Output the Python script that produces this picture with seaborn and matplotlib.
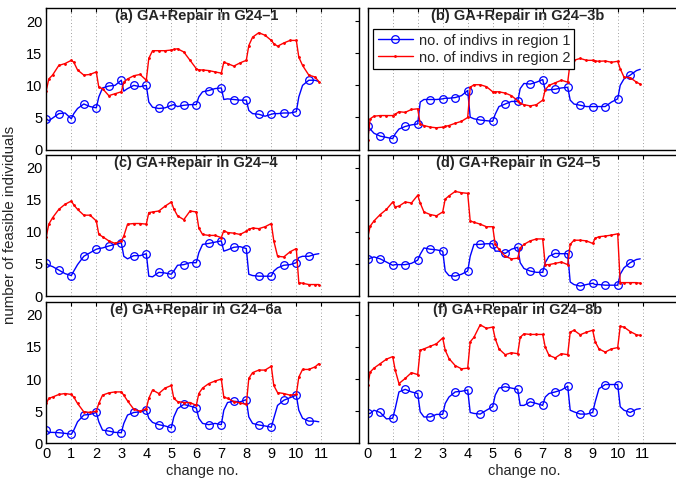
import matplotlib
matplotlib.use("Agg")
import matplotlib.pyplot as plt
import seaborn as sns
import pandas as pd

# ---------------- data ----------------
# sample positions (change no.): 11 intervals x offsets (0, .1, .25, .5, .75) + last sample
OFFSETS = [0.0, 0.1, 0.25, 0.5, 0.75]
CHANGE_NO = [k + o for k in range(11) for o in OFFSETS] + [10.9]

TITLES = ["(a) GA+Repair in G24\u20131", "(b) GA+Repair in G24\u20133b",
          "(c) GA+Repair in G24\u20134", "(d) GA+Repair in G24\u20135",
          "(e) GA+Repair in G24\u20136a", "(f) GA+Repair in G24\u20138b"]

LEGEND_LABELS = ["no. of indivs in region 1", "no. of indivs in region 2"]

R1_A = [4.8, 4.5, 4.9, 5.6, 5.7,  4.8, 5.6, 6.4, 7.1, 6.7,  6.5, 8.2, 9.6, 9.9, 10.0,
        10.8, 9.1, 9.5, 10.0, 9.8,  10.0, 7.4, 6.6, 6.4, 6.5,  6.9, 7.0, 6.7, 6.9, 7.0,
        7.0, 8.2, 9.0, 9.2, 9.5,  9.6, 7.8, 7.9, 7.8, 7.7,  7.7, 6.1, 5.6, 5.5, 5.2,
        5.5, 5.6, 5.6, 5.7, 5.7,  5.9, 8.2, 10.0, 10.8, 10.8,  10.6]
R2_A = [9.2, 11.0, 11.6, 13.1, 13.4,  13.9, 13.6, 12.4, 11.6, 11.7,  12.1, 9.7, 9.5, 8.4, 8.7,
        9.0, 10.5, 11.0, 11.5, 11.7,  10.8, 14.2, 15.4, 15.4, 15.4,  15.5, 15.6, 15.7, 15.2, 13.9,
        12.6, 12.4, 12.4, 12.3, 12.1,  11.9, 13.6, 13.4, 13.0, 13.5,  13.9, 16.2, 17.5, 18.2, 17.8,
        17.0, 16.5, 16.1, 16.6, 17.0,  17.0, 14.4, 13.1, 11.6, 11.3,  10.6]

R1_B = [3.75, 3.2, 2.55, 2.1, 1.9,  1.7, 2.45, 3.2, 3.6, 3.85,  4.0, 7.4, 7.8, 7.8, 7.8,
        7.9, 8.0, 8.0, 8.1, 8.4,  9.2, 5.05, 4.8, 4.6, 4.5,  4.4, 5.5, 6.7, 7.1, 7.5,
        7.5, 9.5, 10.3, 10.2, 10.5,  10.9, 9.3, 9.3, 9.4, 9.6,  9.7, 7.7, 7.1, 6.9, 6.7,
        6.7, 6.7, 6.7, 6.7, 7.4,  7.9, 10.0, 11.0, 11.6, 12.3,  12.5]
R2_B = [1.5, 4.8, 5.2, 5.3, 5.3,  5.3, 5.5, 5.9, 5.8, 6.25,  6.35, 4.0, 3.75, 3.5, 3.4,
        3.5, 3.6, 3.75, 4.1, 4.4,  5.0, 9.7, 10.1, 10.1, 9.8,  9.0, 9.0, 9.0, 8.8, 8.4,
        7.6, 7.2, 7.0, 6.8, 7.0,  7.7, 9.3, 10.0, 10.4, 10.8,  10.5, 13.6, 13.9, 14.2, 13.9,
        13.9, 13.8, 13.75, 13.8, 13.6,  13.75, 12.6, 11.3, 11.2, 10.5,  10.2]

R1_C = [5.1, 4.8, 4.6, 4.05, 3.5,  3.2, 3.9, 4.9, 6.2, 6.75,  7.3, 7.4, 7.5, 7.8, 8.05,
        8.3, 6.2, 5.8, 6.3, 6.3,  6.6, 3.1, 3.0, 3.7, 3.6,  3.4, 3.9, 4.8, 4.9, 5.2,
        5.2, 6.75, 8.05, 8.2, 8.4,  8.6, 7.0, 7.2, 7.6, 7.7,  7.4, 3.4, 3.2, 3.1, 3.1,
        3.1, 3.9, 4.4, 4.8, 4.9,  5.2, 6.0, 6.2, 6.2, 6.5,  6.6]
R2_C = [9.25, 11.2, 12.2, 13.5, 14.3,  14.8, 14.2, 13.5, 12.6, 12.6,  11.7, 9.6, 9.25, 8.6, 8.2,
        8.6, 9.35, 11.2, 11.3, 11.3,  11.2, 13.0, 13.1, 13.25, 14.0,  14.65, 13.6, 12.5, 11.9, 13.25,
        13.1, 10.6, 9.6, 9.45, 9.45,  9.1, 10.2, 9.9, 9.8, 9.6,  10.1, 10.4, 10.6, 10.5, 10.8,
        11.3, 8.6, 6.2, 6.1, 6.9,  7.4, 2.1, 2.0, 1.8, 1.8,  1.8]

R1_D = [5.7, 5.9, 6.1, 5.8, 5.3,  4.8, 4.9, 4.9, 4.9, 5.1,  5.6, 6.5, 7.5, 7.3, 7.2,
        7.0, 3.9, 3.2, 3.1, 3.4,  3.9, 6.2, 8.05, 8.05, 8.15,  8.15, 7.0, 7.0, 6.65, 7.3,
        7.6, 5.2, 4.3, 3.9, 3.7,  3.7, 5.2, 6.2, 6.65, 6.6,  6.6, 2.2, 1.8, 1.55, 1.8,
        2.0, 1.8, 1.8, 1.7, 1.7,  1.7, 3.4, 4.4, 5.2, 5.7,  5.8]
R2_D = [9.1, 10.9, 11.7, 12.7, 13.5,  14.65, 13.9, 14.0, 14.65, 14.5,  15.7, 14.5, 13.1, 12.7, 12.5,
        13.1, 15.1, 15.6, 16.3, 16.1,  16.0, 11.7, 11.5, 11.2, 10.8,  10.8, 8.05, 7.3, 6.2, 5.8,
        5.9, 7.5, 8.05, 8.6, 8.9,  8.9, 4.9, 4.9, 5.1, 5.3,  4.9, 8.05, 8.7, 8.7, 8.6,
        8.2, 9.0, 9.25, 9.35, 9.5,  9.7, 2.1, 2.1, 2.1, 2.1,  2.0]

R1_E = [2.05, 1.7, 1.7, 1.65, 1.55,  1.4, 2.05, 3.35, 4.4, 4.5,  4.8, 3.35, 2.05, 1.9, 1.7,
        1.65, 3.1, 4.4, 4.8, 4.9,  5.15, 3.9, 3.25, 2.9, 2.7,  2.4, 4.1, 5.4, 6.05, 5.8,
        5.5, 3.9, 3.1, 2.9, 3.1,  2.9, 5.15, 6.35, 6.55, 6.45,  6.8, 4.1, 3.1, 2.85, 2.7,
        2.5, 3.9, 5.9, 6.7, 7.1,  7.5, 5.15, 3.9, 3.45, 3.45,  3.35]
R2_E = [6.2, 7.0, 7.2, 7.6, 7.75,  7.6, 7.2, 6.2, 4.9, 4.8,  5.0, 6.2, 7.5, 7.85, 8.0,
        8.0, 7.5, 6.6, 5.3, 5.0,  5.4, 7.0, 8.3, 7.75, 8.6,  9.0, 7.0, 6.5, 6.35, 6.35,
        5.9, 7.75, 8.6, 9.3, 9.7,  10.0, 7.2, 7.0, 6.5, 6.3,  6.05, 10.1, 11.0, 11.4, 11.4,
        12.0, 9.0, 7.9, 7.75, 7.5,  7.6, 10.3, 11.5, 11.5, 11.9,  12.4]

R1_F = [4.65, 4.65, 5.15, 4.8, 3.8,  3.9, 5.4, 8.0, 8.4, 8.0,  7.75, 4.9, 4.1, 4.1, 4.5,
        4.5, 6.2, 7.2, 8.0, 8.1,  8.3, 4.8, 4.65, 4.55, 5.15,  5.7, 7.5, 8.6, 8.8, 8.6,
        8.4, 5.9, 5.9, 6.45, 6.2,  5.9, 7.2, 7.75, 8.0, 8.3,  8.9, 5.15, 4.9, 4.55, 4.55,
        4.8, 6.45, 8.5, 9.15, 9.15,  9.15, 5.7, 5.15, 4.8, 5.3,  5.4]
R2_F = [9.0, 11.1, 11.7, 12.4, 13.1,  13.5, 11.4, 9.3, 10.1, 11.0,  10.7, 14.5, 14.7, 15.1, 15.5,
        16.4, 14.5, 13.2, 12.1, 11.6,  11.7, 15.8, 16.5, 18.45, 17.9,  18.1, 16.3, 14.7, 13.8, 14.1,
        13.95, 16.5, 17.05, 16.95, 16.95,  16.95, 15.0, 13.7, 13.3, 13.95,  13.8, 17.3, 17.6, 16.9, 17.3,
        17.6, 15.8, 14.7, 14.2, 14.7,  14.9, 18.2, 18.1, 17.4, 16.9,  16.8]

REGION1 = [R1_A, R1_B, R1_C, R1_D, R1_E, R1_F]
REGION2 = [R2_A, R2_B, R2_C, R2_D, R2_E, R2_F]

X_TICKS = list(range(12))
Y_TICKS = [0, 5, 10, 15, 20]

# ---------------- style ----------------
sns.set_style("white")
plt.rcParams['font.family'] = ['Liberation Sans', 'DejaVu Sans']
plt.rcParams['axes.linewidth'] = 1.0

FS = 10.5
W, H = 676, 478
fig = plt.figure(figsize=(W / 100, H / 100), dpi=100)

col_left = [46.3, 367.7]
ax_w = 312.5
row_top = [8.3, 154.8, 302.0]
ax_h = 141.3

marker_idx = [i for i, x in enumerate(CHANGE_NO) if abs(x * 2 - round(x * 2)) < 1e-9]

axes = []
for p in range(6):
    r, c = divmod(p, 2)
    l = col_left[c] / W
    b = 1 - (row_top[r] + ax_h) / H
    ax = fig.add_axes([l, b, ax_w / W, ax_h / H])
    axes.append(ax)

    df = pd.DataFrame({"change": CHANGE_NO, "r1": REGION1[p], "r2": REGION2[p]})
    sns.lineplot(data=df, x="change", y="r1", ax=ax, color="#0000ff", linewidth=1.0,
                 marker="o", markevery=marker_idx, markersize=5.5, markerfacecolor="none",
                 markeredgecolor="#0000ff", markeredgewidth=0.9,
                 estimator=None, sort=False, legend=False)
    sns.lineplot(data=df, x="change", y="r2", ax=ax, color="#ff0000", linewidth=1.0,
                 marker=".", markersize=2.5, markeredgecolor="#ff0000",
                 estimator=None, sort=False, legend=False)

    ax.set_xlim(0, 12.5)
    ax.set_ylim(0, 22)
    ax.set_xticks(X_TICKS)
    ax.set_yticks(Y_TICKS)
    ax.xaxis.grid(True, color="0.5", linestyle=(0, (1, 3)), linewidth=0.6)
    ax.yaxis.grid(False)
    ax.tick_params(direction="in", length=3, width=0.8, top=True, right=True,
                   labelsize=FS, pad=3, colors="black")
    for s in ax.spines.values():
        s.set_color("black")
        s.set_linewidth(1.0)
    ax.set_ylabel("")
    if r == 2:
        ax.set_xlabel("change no.", fontsize=FS, labelpad=1.5)
    else:
        ax.set_xlabel("")
        ax.set_xticklabels([])
    if c == 1:
        ax.set_yticklabels([])
    ax.text(6.0, 21.85, TITLES[p], ha="center", va="top", fontsize=FS,
            fontweight="bold")

# legend in panel (b)
axb = axes[1]
handles = [axb.lines[0], axb.lines[1]]
leg = axb.legend(handles, LEGEND_LABELS, loc="upper left", bbox_to_anchor=(0.018, 0.852),
                 fontsize=FS, frameon=True, fancybox=False, framealpha=1, edgecolor="black",
                 borderpad=0.3, handlelength=2.4, handletextpad=0.4, labelspacing=0.2,
                 borderaxespad=0.0)
leg.get_frame().set_linewidth(0.9)

fig.text(10 / W, 1 - 225 / H, "number of feasible individuals", rotation=90,
         ha="center", va="center", fontsize=10.8)

fig.savefig("out.png", dpi=100)
